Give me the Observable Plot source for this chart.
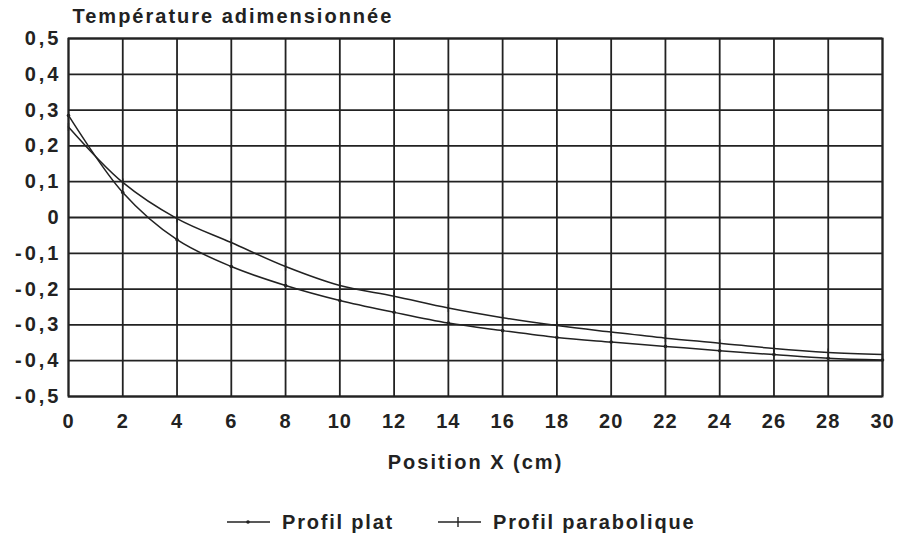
<!DOCTYPE html>
<html><head><meta charset="utf-8">
<script src="https://cdn.jsdelivr.net/npm/d3@7"></script>
<script src="https://cdn.jsdelivr.net/npm/@observablehq/plot@0.6"></script>
<style>
body{margin:0;background:#fff;font-family:"Liberation Sans",Arial,sans-serif;}
#legend{position:relative;height:53px;}
.item{position:absolute;top:21px;display:flex;align-items:center;font-weight:bold;font-size:20px;letter-spacing:1.8px;color:#222;line-height:22px;}
.item svg{margin-right:12px;}
</style></head><body>
<div id="chart"></div>
<div id="legend"></div>
<script>
const positions = [0, 2, 4, 6, 8, 10, 12, 14, 16, 18, 20, 22, 24, 26, 28, 30];
const profilPlat = [0.285, 0.07, -0.062, -0.137, -0.19, -0.232, -0.265, -0.295, -0.316, -0.335, -0.348, -0.36, -0.372, -0.383, -0.393, -0.398];
const profilParabolique = [0.253, 0.098, -0.003, -0.07, -0.137, -0.19, -0.22, -0.253, -0.28, -0.302, -0.32, -0.337, -0.351, -0.366, -0.377, -0.383];
const seriesNames = ["Profil plat", "Profil parabolique"];
const xTicks = [0, 2, 4, 6, 8, 10, 12, 14, 16, 18, 20, 22, 24, 26, 28, 30];
const yTicks = [0.5, 0.4, 0.3, 0.2, 0.1, 0, -0.1, -0.2, -0.3, -0.4, -0.5];
const titre = "Température adimensionnée";
const xLabel = "Position X (cm)";

const ink = "#222";
const platRows = positions.map((x, i) => ({x, y: profilPlat[i], serie: seriesNames[0]}));
const paraRows = positions.map((x, i) => ({x, y: profilParabolique[i], serie: seriesNames[1]}));
const vtick = {draw(ctx, size) { const r = Math.sqrt(size / Math.PI); ctx.moveTo(0, -r); ctx.lineTo(0, r); }};
const fmt = d => d === 0 ? "0" : d.toFixed(1).replace(".", ",");

const chart = Plot.plot({
  width: 911,
  height: 490,
  marginLeft: 68,
  marginRight: 29,
  marginTop: 38,
  marginBottom: 94,
  style: {fontFamily: "'Liberation Sans', Arial, sans-serif", fontWeight: "bold", color: ink, background: "#fff", letterSpacing: "2px"},
  x: {domain: [0, 30]},
  y: {domain: [-0.5, 0.5]},
  marks: [
    Plot.gridX(xTicks, {stroke: ink, strokeOpacity: 1, strokeWidth: 1.8}),
    Plot.gridY(yTicks, {stroke: ink, strokeOpacity: 1, strokeWidth: 1.8}),
    Plot.frame({stroke: ink, strokeWidth: 1.9}),
    Plot.axisX({ticks: xTicks, tickSize: 0, tickPadding: 17, fontSize: 20, label: null, tickFormat: d => String(d)}),
    Plot.axisY({ticks: yTicks, tickSize: 0, tickPadding: 7, fontSize: 20, label: null, tickFormat: fmt}),
    Plot.line(platRows, {x: "x", y: "y", curve: "catmull-rom", stroke: ink, strokeWidth: 1.5}),
    Plot.line(paraRows, {x: "x", y: "y", curve: "catmull-rom", stroke: ink, strokeWidth: 1.5}),
    Plot.dot(platRows, {x: "x", y: "y", r: 1.8, fill: ink}),
    Plot.dot(paraRows, {x: "x", y: "y", r: 4, symbol: vtick, stroke: ink, strokeWidth: 1.4}),
    Plot.text([titre], {frameAnchor: "top-left", dx: 4, dy: -22, textAnchor: "start", lineAnchor: "middle", fontSize: 20, fontWeight: "bold", fill: ink}),
    Plot.text([xLabel], {frameAnchor: "bottom", dy: 66, lineAnchor: "middle", fontSize: 20, fontWeight: "bold", fill: ink})
  ]
});
chart.querySelectorAll('[aria-label="y-axis tick label"]').forEach(g => g.style.letterSpacing = "3px");
chart.querySelectorAll('[aria-label="x-axis tick label"]').forEach(g => g.style.letterSpacing = "1px");
document.getElementById("chart").appendChild(chart);

// Legend
const legend = document.getElementById("legend");
const lefts = [227, 438];
seriesNames.forEach((name, i) => {
  const item = document.createElement("div");
  item.className = "item";
  item.style.left = lefts[i] + "px";
  const sw = i === 0
    ? `<svg width="43" height="12"><line x1="0" y1="6" x2="43" y2="6" stroke="${ink}" stroke-width="1.5"/><circle cx="21" cy="6" r="1.8" fill="${ink}"/></svg>`
    : `<svg width="43" height="12"><line x1="0" y1="6" x2="43" y2="6" stroke="${ink}" stroke-width="1.5"/><line x1="20" y1="1" x2="20" y2="11" stroke="${ink}" stroke-width="1.4"/></svg>`;
  item.innerHTML = sw + `<span>${name}</span>`;
  legend.appendChild(item);
});
</script>
</body></html>
